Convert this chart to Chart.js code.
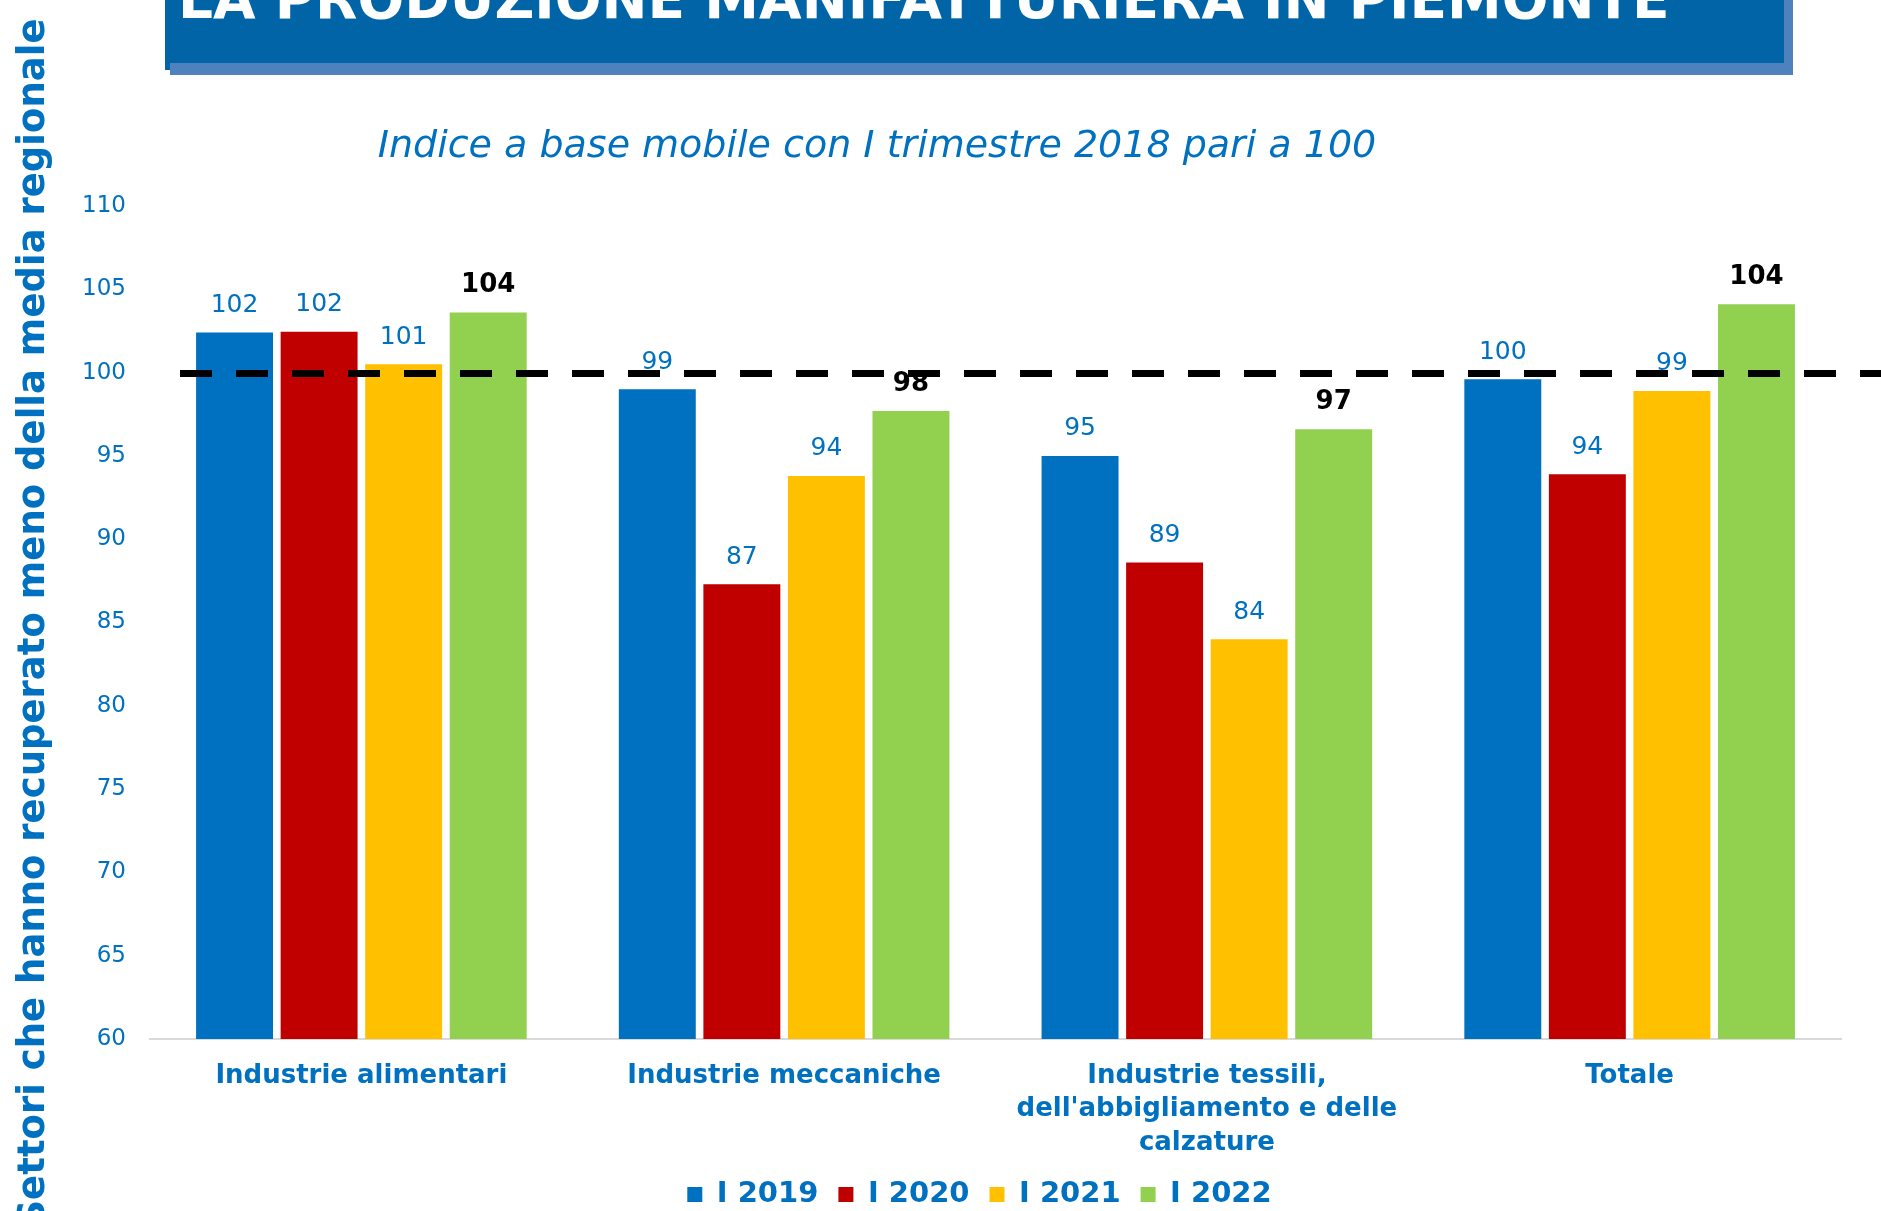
<!DOCTYPE html>
<html lang="it">
<head>
<meta charset="utf-8">
<title>La produzione manifatturiera in Piemonte</title>
<script src="https://cdn.jsdelivr.net/npm/chart.js@4.4.1/dist/chart.umd.min.js"></script>
<style>
    html, body { margin: 0; padding: 0; background: #fff; }
    body { width: 1881px; height: 1211px; position: relative; overflow: hidden; font-family: "DejaVu Sans", Verdana, sans-serif; }
    #grafico { position: absolute; left: 0; top: 0; }
    .ombra { position: absolute; left: 170px; top: 0; width: 1623px; height: 75px; background: #4f81bd; }
    .banner { position: absolute; left: 165px; top: 0; width: 1619px; height: 63px; background: #0064a6; }
    .striscia { position: absolute; left: 165px; top: 0; width: 5px; height: 70px; background: #0064a6; }
    .titolo { position: absolute; left: 178px; top: -28px; font-weight: bold; font-size: 55px; line-height: 55px; color: #fff; white-space: nowrap; }
    .sottotitolo { position: absolute; left: 0; width: 1754px; top: 124px; text-align: center; font-style: italic; font-size: 38px; line-height: 40px; color: #0070c0; white-space: nowrap; }
</style>
</head>
<body>
<canvas id="grafico" width="1881" height="1211"></canvas>
<div class="ombra"></div>
<div class="banner"></div>
<div class="striscia"></div>
<div class="titolo">LA PRODUZIONE MANIFATTURIERA IN PIEMONTE</div>
<div class="sottotitolo">Indice a base mobile con I trimestre 2018 pari a 100</div>

<script>
// --- Dati ---
const categorie = [
    'Industrie alimentari',
    'Industrie meccaniche',
    ['Industrie tessili,', "dell'abbigliamento e delle", 'calzature'],
    'Totale'
];
const serie = ['I 2019', 'I 2020', 'I 2021', 'I 2022'];
const valori2019 = [102.4, 99.0, 95.0, 99.6];
const valori2020 = [102.45, 87.3, 88.6, 93.9];
const valori2021 = [100.5, 93.8, 84.0, 98.9];
const valori2022 = [103.6, 97.7, 96.6, 104.1];
const tickAsseY = [60, 65, 70, 75, 80, 85, 90, 95, 100, 105, 110];
const mediaRegionale = 100;

// --- Stili ---
const colori = ['#0070C0', '#C00000', '#FFC000', '#92D050'];
const BLU = '#0070C0';
const FONT = '"DejaVu Sans", Verdana, sans-serif';

Chart.defaults.font.family = FONT;

/**
 * Scrive il valore arrotondato sopra ogni barra.
 * L'ultima serie (I 2022) in grassetto nero.
 */
const etichetteValori = {
    id: 'etichetteValori',
    afterDatasetsDraw(chart) {
        const ctx = chart.ctx;
        const n = chart.data.datasets.length;
        ctx.save();
        ctx.textAlign = 'center';
        ctx.textBaseline = 'middle';
        chart.data.datasets.forEach((ds, i) => {
            const ultima = i === n - 1;
            ctx.font = ultima ? `bold 26px ${FONT}` : `25px ${FONT}`;
            ctx.fillStyle = ultima ? '#000' : BLU;
            chart.getDatasetMeta(i).data.forEach((barra, j) => {
                ctx.fillText(String(Math.round(ds.data[j])), barra.x, barra.y - 27);
            });
        });
        ctx.restore();
    }
};

/**
 * Linea tratteggiata della media regionale (100).
 */
const lineaMedia = {
    id: 'lineaMedia',
    afterDatasetsDraw(chart) {
        const ctx = chart.ctx;
        const y = chart.scales.y.getPixelForValue(mediaRegionale) + 1;
        ctx.save();
        ctx.strokeStyle = '#000';
        ctx.lineWidth = 7;
        ctx.setLineDash([32, 24]);
        ctx.beginPath();
        ctx.moveTo(180, y);
        ctx.lineTo(chart.width, y);
        ctx.stroke();
        ctx.restore();
    }
};

// Sposta un po' a sinistra la legenda, come nell'originale
const spostaLegenda = {
    id: 'spostaLegenda',
    afterLayout(chart) {
        if (chart.legend) {
            chart.legend.left -= 16;
            chart.legend.right -= 16;
        }
    }
};

const datiSerie = [valori2019, valori2020, valori2021, valori2022];

new Chart(document.getElementById('grafico').getContext('2d'), {
    type: 'bar',
    data: {
        labels: categorie,
        datasets: serie.map((nome, i) => ({
            label: nome,
            data: datiSerie[i],
            backgroundColor: colori[i],
            borderWidth: 0,
            categoryPercentage: 0.8,
            barPercentage: 0.91
        }))
    },
    options: {
        responsive: false,
        animation: false,
        devicePixelRatio: 1,
        layout: { padding: { top: 206, right: 40, bottom: -8, left: 0 } },
        scales: {
            x: {
                grid: { display: false },
                border: { display: true, color: '#d9d9d9', width: 2 },
                ticks: {
                    color: BLU,
                    padding: 12,
                    maxRotation: 0,
                    autoSkip: false,
                    font: { size: 26, weight: 'bold', lineHeight: 1.3 }
                },
                afterFit: (scala) => { scala.height = 121; }
            },
            y: {
                min: 60,
                max: 110,
                grid: { display: false, drawTicks: false },
                border: { display: false },
                afterBuildTicks: (scala) => { scala.ticks = tickAsseY.map(v => ({ value: v })); },
                ticks: { color: BLU, padding: 24, font: { size: 23 } },
                title: {
                    display: true,
                    text: 'Settori che hanno recuperato meno della media regionale',
                    color: BLU,
                    font: { size: 37, weight: 'bold' },
                    padding: { top: 12, bottom: 0 }
                },
                afterFit: (scala) => { scala.width = 150; }
            }
        },
        plugins: {
            legend: {
                position: 'bottom',
                fullSize: false,
                labels: {
                    color: BLU,
                    boxWidth: 15,
                    boxHeight: 15,
                    padding: 20,
                    font: { size: 29, weight: 'bold' }
                }
            },
            tooltip: { enabled: false }
        }
    },
    plugins: [etichetteValori, lineaMedia, spostaLegenda]
});
</script>
</body>
</html>
